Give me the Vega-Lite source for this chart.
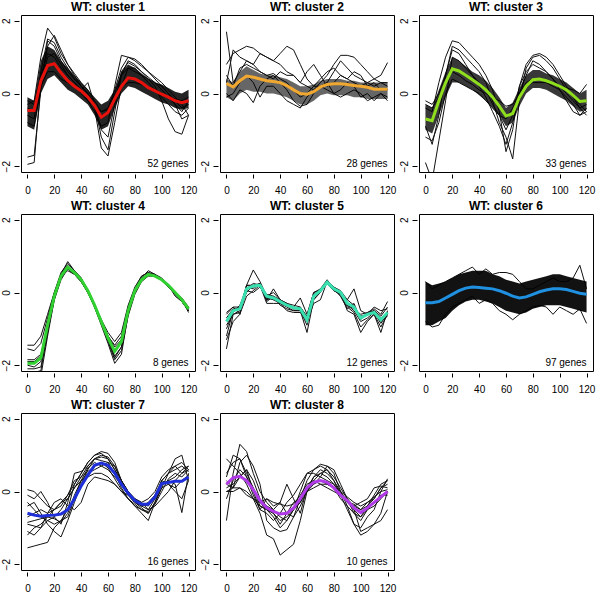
{
"$schema":"https://vega.github.io/schema/vega-lite/v6.json",
"padding":{"left":0,"top":0,"right":0,"bottom":0},
"background":"white",
"data":{"values":[
{"k":1,"t":0,"m":-0.47,"lo":-0.9,"hi":-0.1,"a":-0.3,"b":-1.95,"c":-1.75,"d":-0.8,"e":-0.2,"f":-0.6,"g":-0.4,"n":"52  genes"},
{"k":1,"t":5,"m":-0.47,"lo":-1.0,"hi":-0.2,"a":-0.2,"b":-1.9,"c":-1.7,"d":-0.9,"e":-0.3,"f":-0.7,"g":-0.5},
{"k":1,"t":10,"m":0.35,"lo":0.0,"hi":0.9,"a":1.0,"b":0.3,"c":0.1,"d":0.2,"e":0.5,"f":0.6,"g":0.2},
{"k":1,"t":15,"m":0.77,"lo":0.4,"hi":1.3,"a":1.8,"b":1.3,"c":1.45,"d":1.0,"e":1.1,"f":1.5,"g":0.6},
{"k":1,"t":20,"m":0.82,"lo":0.5,"hi":1.2,"a":1.55,"b":1.6,"c":1.3,"d":1.1,"e":1.0,"f":1.4,"g":0.6},
{"k":1,"t":25,"m":0.57,"lo":0.3,"hi":0.9,"a":1.1,"b":1.2,"c":0.9,"d":0.8,"e":0.7,"f":1.0,"g":0.4},
{"k":1,"t":30,"m":0.35,"lo":0.1,"hi":0.7,"a":0.8,"b":0.8,"c":0.6,"d":0.5,"e":0.5,"f":0.7,"g":0.3},
{"k":1,"t":35,"m":0.2,"lo":0.0,"hi":0.5,"a":0.55,"b":0.5,"c":0.4,"d":0.3,"e":0.3,"f":0.4,"g":0.2},
{"k":1,"t":40,"m":0.07,"lo":-0.15,"hi":0.3,"a":0.3,"b":0.2,"c":0.2,"d":0.1,"e":0.1,"f":0.2,"g":0.0},
{"k":1,"t":45,"m":-0.1,"lo":-0.3,"hi":0.1,"a":0.1,"b":0.0,"c":0.0,"d":0.3,"e":-0.2,"f":0.0,"g":-0.2},
{"k":1,"t":50,"m":-0.33,"lo":-0.6,"hi":-0.1,"a":-0.2,"b":-0.3,"c":-0.4,"d":-0.3,"e":-0.5,"f":-0.3,"g":-0.35},
{"k":1,"t":55,"m":-0.65,"lo":-1.0,"hi":-0.3,"a":-0.5,"b":-1.2,"c":-1.5,"d":-0.6,"e":-0.9,"f":-1.0,"g":-0.5},
{"k":1,"t":60,"m":-0.52,"lo":-0.9,"hi":-0.2,"a":-0.4,"b":-1.55,"c":-1.72,"d":-0.5,"e":-0.8,"f":-1.2,"g":-0.45},
{"k":1,"t":65,"m":-0.15,"lo":-0.4,"hi":0.1,"a":0.1,"b":-0.5,"c":-0.8,"d":0.0,"e":0.2,"f":-0.3,"g":-0.1},
{"k":1,"t":70,"m":0.2,"lo":0.0,"hi":0.6,"a":0.7,"b":0.5,"c":0.2,"d":0.5,"e":1.05,"f":0.6,"g":0.2},
{"k":1,"t":75,"m":0.43,"lo":0.2,"hi":0.8,"a":1.0,"b":0.9,"c":0.7,"d":0.7,"e":1.0,"f":0.85,"g":0.3},
{"k":1,"t":80,"m":0.4,"lo":0.15,"hi":0.7,"a":0.95,"b":0.8,"c":0.7,"d":0.6,"e":0.9,"f":0.75,"g":0.3},
{"k":1,"t":85,"m":0.3,"lo":0.05,"hi":0.55,"a":0.8,"b":0.6,"c":0.5,"d":0.5,"e":0.75,"f":0.6,"g":0.25},
{"k":1,"t":90,"m":0.16,"lo":-0.05,"hi":0.4,"a":0.6,"b":0.4,"c":0.3,"d":0.4,"e":0.6,"f":0.45,"g":0.15},
{"k":1,"t":95,"m":0.07,"lo":-0.15,"hi":0.3,"a":0.4,"b":0.2,"c":0.1,"d":0.3,"e":0.45,"f":0.3,"g":0.05},
{"k":1,"t":100,"m":-0.02,"lo":-0.25,"hi":0.25,"a":0.2,"b":-0.2,"c":-0.1,"d":0.2,"e":0.3,"f":0.1,"g":-0.05},
{"k":1,"t":105,"m":-0.1,"lo":-0.3,"hi":0.15,"a":0.0,"b":-0.7,"c":-0.3,"d":0.0,"e":0.1,"f":-0.1,"g":-0.1},
{"k":1,"t":110,"m":-0.2,"lo":-0.4,"hi":0.05,"a":-0.3,"b":-1.05,"c":-0.5,"d":-0.2,"e":-0.1,"f":-0.3,"g":-0.15},
{"k":1,"t":115,"m":-0.25,"lo":-0.45,"hi":0.0,"a":-0.7,"b":-1.12,"c":-0.6,"d":-0.4,"e":-0.3,"f":-0.5,"g":-0.2},
{"k":1,"t":120,"m":-0.2,"lo":-0.4,"hi":0.1,"a":-0.6,"b":-0.6,"c":-0.4,"d":-0.3,"e":-0.6,"f":-0.2,"g":-0.1},
{"k":2,"t":0,"m":0.28,"lo":-0.1,"hi":0.4,"a":1.7,"b":0.8,"c":0.3,"d":0.0,"e":0.5,"f":-0.1,"n":"28  genes"},
{"k":2,"t":5,"m":0.18,"lo":-0.2,"hi":0.3,"a":0.3,"b":1.1,"c":1.2,"d":-0.2,"e":0.2,"f":0.0},
{"k":2,"t":10,"m":0.35,"lo":0.0,"hi":0.6,"a":0.6,"b":1.2,"c":1.0,"d":0.1,"e":0.7,"f":0.3},
{"k":2,"t":15,"m":0.48,"lo":0.1,"hi":0.75,"a":0.9,"b":1.3,"c":0.9,"d":0.0,"e":0.8,"f":0.5},
{"k":2,"t":20,"m":0.45,"lo":0.05,"hi":0.65,"a":0.8,"b":1.25,"c":0.8,"d":-0.25,"e":0.7,"f":0.3},
{"k":2,"t":25,"m":0.4,"lo":0.05,"hi":0.55,"a":0.6,"b":1.1,"c":1.1,"d":0.2,"e":0.6,"f":-0.1},
{"k":2,"t":30,"m":0.35,"lo":0.0,"hi":0.5,"a":0.5,"b":1.0,"c":1.0,"d":0.4,"e":0.5,"f":0.2},
{"k":2,"t":35,"m":0.33,"lo":0.0,"hi":0.5,"a":0.55,"b":0.9,"c":0.9,"d":0.5,"e":0.4,"f":0.2},
{"k":2,"t":40,"m":0.3,"lo":-0.05,"hi":0.45,"a":0.4,"b":0.8,"c":1.1,"d":0.3,"e":0.6,"f":0.0},
{"k":2,"t":45,"m":0.22,"lo":-0.1,"hi":0.4,"a":0.3,"b":0.6,"c":1.3,"d":0.1,"e":0.5,"f":-0.2},
{"k":2,"t":50,"m":0.1,"lo":-0.2,"hi":0.3,"a":0.1,"b":0.5,"c":1.2,"d":-0.2,"e":0.5,"f":-0.3},
{"k":2,"t":55,"m":0.0,"lo":-0.3,"hi":0.2,"a":-0.1,"b":0.3,"c":0.8,"d":-0.35,"e":0.3,"f":-0.4},
{"k":2,"t":60,"m":-0.02,"lo":-0.3,"hi":0.2,"a":0.0,"b":0.2,"c":0.4,"d":-0.3,"e":0.6,"f":-0.1},
{"k":2,"t":65,"m":0.05,"lo":-0.2,"hi":0.25,"a":0.2,"b":0.1,"c":0.2,"d":0.0,"e":0.8,"f":0.1},
{"k":2,"t":70,"m":0.18,"lo":-0.05,"hi":0.35,"a":0.4,"b":0.3,"c":0.2,"d":0.2,"e":0.5,"f":0.2},
{"k":2,"t":75,"m":0.25,"lo":0.0,"hi":0.4,"a":0.6,"b":0.5,"c":0.3,"d":0.1,"e":0.2,"f":0.3},
{"k":2,"t":80,"m":0.27,"lo":-0.05,"hi":0.4,"a":0.7,"b":0.8,"c":0.6,"d":0.0,"e":0.3,"f":0.0},
{"k":2,"t":85,"m":0.27,"lo":-0.05,"hi":0.4,"a":0.5,"b":1.05,"c":0.9,"d":-0.1,"e":0.5,"f":0.1},
{"k":2,"t":90,"m":0.25,"lo":-0.05,"hi":0.35,"a":0.4,"b":1.05,"c":0.7,"d":0.0,"e":0.4,"f":0.3},
{"k":2,"t":95,"m":0.22,"lo":-0.1,"hi":0.35,"a":0.3,"b":1.0,"c":0.5,"d":0.1,"e":0.6,"f":0.2},
{"k":2,"t":100,"m":0.2,"lo":-0.1,"hi":0.3,"a":0.2,"b":0.8,"c":0.4,"d":0.0,"e":0.5,"f":-0.1},
{"k":2,"t":105,"m":0.17,"lo":-0.15,"hi":0.3,"a":0.3,"b":0.6,"c":0.3,"d":-0.2,"e":0.2,"f":0.0},
{"k":2,"t":110,"m":0.12,"lo":-0.15,"hi":0.3,"a":0.4,"b":0.4,"c":0.2,"d":-0.1,"e":0.3,"f":-0.2},
{"k":2,"t":115,"m":0.12,"lo":-0.15,"hi":0.3,"a":0.5,"b":0.3,"c":0.3,"d":0.0,"e":0.1,"f":0.0},
{"k":2,"t":120,"m":0.12,"lo":-0.15,"hi":0.3,"a":0.85,"b":0.2,"c":0.3,"d":-0.2,"e":0.1,"f":-0.1},
{"k":3,"t":0,"m":-0.7,"lo":-1.0,"hi":-0.3,"a":-1.9,"b":-0.4,"c":-0.9,"d":-0.2,"e":-0.3,"f":-1.2,"n":"33  genes"},
{"k":3,"t":5,"m":-0.75,"lo":-1.1,"hi":-0.4,"a":-2.4,"b":-0.5,"c":-1.4,"d":-0.3,"e":-0.4,"f":-1.3},
{"k":3,"t":10,"m":-0.2,"lo":-0.6,"hi":0.1,"a":-1.3,"b":0.3,"c":-0.6,"d":0.0,"e":-0.1,"f":-0.8},
{"k":3,"t":15,"m":0.3,"lo":-0.1,"hi":0.6,"a":-0.2,"b":1.0,"c":0.5,"d":0.5,"e":0.3,"f":0.0},
{"k":3,"t":20,"m":0.68,"lo":0.3,"hi":1.0,"a":1.0,"b":1.45,"c":1.3,"d":1.2,"e":0.6,"f":0.4},
{"k":3,"t":25,"m":0.62,"lo":0.3,"hi":0.9,"a":0.9,"b":1.4,"c":1.2,"d":1.1,"e":0.5,"f":0.3},
{"k":3,"t":30,"m":0.5,"lo":0.2,"hi":0.75,"a":0.7,"b":1.2,"c":1.0,"d":0.8,"e":0.35,"f":0.2},
{"k":3,"t":35,"m":0.38,"lo":0.1,"hi":0.6,"a":0.5,"b":1.0,"c":0.8,"d":0.5,"e":0.25,"f":0.1},
{"k":3,"t":40,"m":0.25,"lo":-0.05,"hi":0.5,"a":0.3,"b":0.8,"c":0.6,"d":0.2,"e":0.1,"f":0.0},
{"k":3,"t":45,"m":0.1,"lo":-0.2,"hi":0.35,"a":0.1,"b":0.5,"c":0.3,"d":-0.1,"e":0.0,"f":-0.2},
{"k":3,"t":50,"m":-0.1,"lo":-0.4,"hi":0.15,"a":-0.3,"b":0.1,"c":-0.2,"d":-0.5,"e":-0.1,"f":-0.4},
{"k":3,"t":55,"m":-0.35,"lo":-0.6,"hi":-0.1,"a":-0.6,"b":-0.5,"c":-0.8,"d":-0.9,"e":-0.2,"f":-0.6},
{"k":3,"t":60,"m":-0.62,"lo":-0.9,"hi":-0.4,"a":-1.0,"b":-1.6,"c":-1.2,"d":-1.4,"e":-0.35,"f":-0.7},
{"k":3,"t":65,"m":-0.55,"lo":-0.8,"hi":-0.25,"a":-0.6,"b":-1.0,"c":-1.8,"d":-0.8,"e":-0.3,"f":-0.4},
{"k":3,"t":70,"m":-0.1,"lo":-0.35,"hi":0.15,"a":0.2,"b":0.2,"c":-0.2,"d":0.0,"e":0.0,"f":0.0},
{"k":3,"t":75,"m":0.2,"lo":0.0,"hi":0.5,"a":0.6,"b":0.8,"c":0.7,"d":0.5,"e":0.2,"f":0.3},
{"k":3,"t":80,"m":0.38,"lo":0.15,"hi":0.65,"a":0.8,"b":1.05,"c":1.0,"d":0.9,"e":0.3,"f":0.4},
{"k":3,"t":85,"m":0.4,"lo":0.15,"hi":0.65,"a":0.7,"b":1.1,"c":1.05,"d":0.8,"e":0.3,"f":0.4},
{"k":3,"t":90,"m":0.35,"lo":0.1,"hi":0.55,"a":0.6,"b":1.0,"c":0.9,"d":0.6,"e":0.3,"f":0.3},
{"k":3,"t":95,"m":0.28,"lo":0.0,"hi":0.5,"a":0.4,"b":0.8,"c":0.7,"d":0.4,"e":0.25,"f":0.2},
{"k":3,"t":100,"m":0.2,"lo":-0.1,"hi":0.4,"a":0.2,"b":0.5,"c":0.4,"d":0.1,"e":0.2,"f":0.1},
{"k":3,"t":105,"m":0.1,"lo":-0.2,"hi":0.3,"a":0.0,"b":0.2,"c":0.1,"d":-0.2,"e":0.15,"f":-0.1},
{"k":3,"t":110,"m":-0.05,"lo":-0.35,"hi":0.15,"a":-0.2,"b":-0.1,"c":-0.1,"d":-0.5,"e":0.1,"f":-0.3},
{"k":3,"t":115,"m":-0.22,"lo":-0.5,"hi":0.0,"a":-0.4,"b":-0.3,"c":-0.4,"d":-0.6,"e":0.0,"f":-0.6},
{"k":3,"t":120,"m":-0.2,"lo":-0.45,"hi":0.1,"a":-0.3,"b":-0.5,"c":-0.6,"d":-0.5,"e":0.25,"f":-0.4},
{"k":4,"t":0,"m":-1.95,"a":-1.45,"b":-1.55,"c":-1.85,"d":-2.0,"e":-2.1,"f":-2.2,"g":-2.3,"h":-1.9,"n":"8  genes"},
{"k":4,"t":5,"m":-1.95,"a":-1.45,"b":-1.6,"c":-1.85,"d":-2.05,"e":-2.1,"f":-2.2,"g":-2.3,"h":-1.9},
{"k":4,"t":10,"m":-1.8,"a":-1.2,"b":-1.4,"c":-1.7,"d":-1.9,"e":-2.05,"f":-2.15,"g":-2.3,"h":-1.75},
{"k":4,"t":15,"m":-0.9,"a":-0.6,"b":-0.7,"c":-0.9,"d":-1.0,"e":-1.1,"f":-1.1,"g":-1.2,"h":-0.95},
{"k":4,"t":20,"m":-0.1,"a":0.0,"b":0.0,"c":-0.1,"d":-0.15,"e":-0.2,"f":-0.1,"g":-0.2,"h":-0.1},
{"k":4,"t":25,"m":0.45,"a":0.5,"b":0.55,"c":0.45,"d":0.4,"e":0.35,"f":0.5,"g":0.4,"h":0.45},
{"k":4,"t":30,"m":0.7,"a":0.75,"b":0.8,"c":0.7,"d":0.65,"e":0.65,"f":0.85,"g":0.7,"h":0.6},
{"k":4,"t":35,"m":0.55,"a":0.55,"b":0.6,"c":0.55,"d":0.5,"e":0.5,"f":0.6,"g":0.55,"h":0.5},
{"k":4,"t":40,"m":0.35,"a":0.35,"b":0.4,"c":0.35,"d":0.3,"e":0.3,"f":0.4,"g":0.35,"h":0.3},
{"k":4,"t":45,"m":0.05,"a":0.05,"b":0.05,"c":0.05,"d":0.0,"e":0.0,"f":0.05,"g":0.0,"h":0.0},
{"k":4,"t":50,"m":-0.35,"a":-0.35,"b":-0.35,"c":-0.35,"d":-0.4,"e":-0.4,"f":-0.4,"g":-0.35,"h":-0.35},
{"k":4,"t":55,"m":-0.8,"a":-0.75,"b":-0.8,"c":-0.8,"d":-0.85,"e":-0.85,"f":-0.9,"g":-0.8,"h":-0.75},
{"k":4,"t":60,"m":-1.25,"a":-1.1,"b":-1.2,"c":-1.25,"d":-1.3,"e":-1.35,"f":-1.4,"g":-1.3,"h":-1.2},
{"k":4,"t":65,"m":-1.62,"a":-1.35,"b":-1.45,"c":-1.6,"d":-1.75,"e":-1.85,"f":-1.95,"g":-1.8,"h":-1.5},
{"k":4,"t":70,"m":-1.35,"a":-1.1,"b":-1.2,"c":-1.35,"d":-1.5,"e":-1.6,"f":-1.7,"g":-1.5,"h":-1.3},
{"k":4,"t":75,"m":-0.5,"a":-0.35,"b":-0.4,"c":-0.5,"d":-0.6,"e":-0.65,"f":-0.6,"g":-0.55,"h":-0.45},
{"k":4,"t":80,"m":0.05,"a":0.15,"b":0.1,"c":0.05,"d":0.0,"e":-0.05,"f":0.05,"g":0.0,"h":0.05},
{"k":4,"t":85,"m":0.35,"a":0.45,"b":0.45,"c":0.35,"d":0.35,"e":0.3,"f":0.4,"g":0.35,"h":0.4},
{"k":4,"t":90,"m":0.5,"a":0.55,"b":0.55,"c":0.5,"d":0.5,"e":0.45,"f":0.6,"g":0.5,"h":0.5},
{"k":4,"t":95,"m":0.45,"a":0.45,"b":0.5,"c":0.45,"d":0.45,"e":0.45,"f":0.5,"g":0.45,"h":0.45},
{"k":4,"t":100,"m":0.35,"a":0.35,"b":0.35,"c":0.35,"d":0.35,"e":0.35,"f":0.4,"g":0.35,"h":0.35},
{"k":4,"t":105,"m":0.2,"a":0.2,"b":0.2,"c":0.2,"d":0.15,"e":0.15,"f":0.2,"g":0.2,"h":0.2},
{"k":4,"t":110,"m":0.0,"a":0.0,"b":-0.05,"c":0.0,"d":-0.05,"e":-0.05,"f":-0.05,"g":-0.1,"h":0.0},
{"k":4,"t":115,"m":-0.2,"a":-0.2,"b":-0.2,"c":-0.2,"d":-0.25,"e":-0.25,"f":-0.2,"g":-0.25,"h":-0.15},
{"k":4,"t":120,"m":-0.45,"a":-0.5,"b":-0.45,"c":-0.45,"d":-0.5,"e":-0.5,"f":-0.55,"g":-0.5,"h":-0.4},
{"k":5,"t":0,"m":-0.8,"a":-1.55,"b":-1.2,"c":-0.55,"d":-0.9,"e":-1.3,"f":-0.7,"g":-0.6,"h":-1.0,"n":"12  genes"},
{"k":5,"t":5,"m":-0.5,"a":-0.6,"b":-0.5,"c":-0.4,"d":-0.6,"e":-0.8,"f":-0.45,"g":-0.4,"h":-0.55},
{"k":5,"t":10,"m":-0.45,"a":-0.5,"b":-0.4,"c":-0.4,"d":-0.55,"e":-0.6,"f":-0.45,"g":-0.6,"h":-0.35},
{"k":5,"t":15,"m":0.1,"a":0.2,"b":0.15,"c":0.0,"d":0.05,"e":-0.1,"f":0.2,"g":0.2,"h":0.1},
{"k":5,"t":20,"m":0.18,"a":0.62,"b":0.1,"c":0.2,"d":0.0,"e":0.05,"f":0.2,"g":0.15,"h":0.25},
{"k":5,"t":25,"m":0.2,"a":0.3,"b":0.25,"c":0.25,"d":0.15,"e":0.2,"f":0.2,"g":0.25,"h":0.2},
{"k":5,"t":30,"m":-0.1,"a":-0.1,"b":-0.2,"c":-0.25,"d":-0.15,"e":-0.3,"f":-0.05,"g":-0.1,"h":-0.2},
{"k":5,"t":35,"m":-0.15,"a":-0.2,"b":0.1,"c":-0.1,"d":-0.2,"e":-0.3,"f":-0.1,"g":0.0,"h":-0.15},
{"k":5,"t":40,"m":-0.25,"a":-0.3,"b":-0.2,"c":-0.35,"d":-0.25,"e":-0.3,"f":-0.2,"g":-0.2,"h":-0.25},
{"k":5,"t":45,"m":-0.35,"a":-0.4,"b":-0.3,"c":-0.45,"d":-0.35,"e":-0.5,"f":-0.3,"g":-0.35,"h":-0.3},
{"k":5,"t":50,"m":-0.42,"a":-0.5,"b":-0.4,"c":-0.5,"d":-0.4,"e":-0.55,"f":-0.35,"g":-0.45,"h":-0.45},
{"k":5,"t":55,"m":-0.45,"a":-0.5,"b":-0.15,"c":-0.5,"d":-0.45,"e":-0.55,"f":-0.4,"g":-0.45,"h":-0.4},
{"k":5,"t":60,"m":-0.75,"a":-0.9,"b":-0.6,"c":-1.1,"d":-0.75,"e":-0.8,"f":-0.7,"g":-0.7,"h":-0.65},
{"k":5,"t":65,"m":-0.1,"a":-0.1,"b":0.0,"c":-0.2,"d":-0.1,"e":-0.3,"f":-0.05,"g":-0.2,"h":0.0},
{"k":5,"t":70,"m":0.05,"a":0.1,"b":0.1,"c":0.0,"d":0.05,"e":-0.2,"f":0.05,"g":0.05,"h":0.05},
{"k":5,"t":75,"m":0.28,"a":0.35,"b":0.3,"c":0.3,"d":0.25,"e":0.3,"f":0.3,"g":0.25,"h":0.25},
{"k":5,"t":80,"m":0.1,"a":0.1,"b":0.15,"c":0.15,"d":0.05,"e":0.1,"f":0.1,"g":0.1,"h":0.05},
{"k":5,"t":85,"m":0.0,"a":-0.1,"b":0.05,"c":0.0,"d":-0.05,"e":-0.1,"f":0.0,"g":0.0,"h":-0.05},
{"k":5,"t":90,"m":-0.3,"a":-0.45,"b":-0.2,"c":-0.5,"d":-0.35,"e":-0.4,"f":-0.3,"g":-0.35,"h":-0.2},
{"k":5,"t":95,"m":-0.4,"a":-0.3,"b":0.1,"c":-0.6,"d":-0.5,"e":-0.55,"f":-0.4,"g":-0.45,"h":-0.35},
{"k":5,"t":100,"m":-0.7,"a":-0.75,"b":-0.5,"c":-1.1,"d":-0.8,"e":-0.95,"f":-0.65,"g":-0.6,"h":-0.7},
{"k":5,"t":105,"m":-0.6,"a":-0.55,"b":-0.6,"c":-0.8,"d":-0.7,"e":-0.75,"f":-0.6,"g":-0.55,"h":-0.6},
{"k":5,"t":110,"m":-0.55,"a":-0.45,"b":-0.4,"c":-0.6,"d":-0.55,"e":-0.6,"f":-0.5,"g":-0.5,"h":-0.55},
{"k":5,"t":115,"m":-0.75,"a":-0.6,"b":-0.5,"c":-1.1,"d":-0.85,"e":-0.95,"f":-0.7,"g":-0.65,"h":-0.8},
{"k":5,"t":120,"m":-0.55,"a":-0.25,"b":-0.45,"c":-0.5,"d":-0.6,"e":-0.6,"f":-0.55,"g":-0.4,"h":-0.65},
{"k":6,"t":0,"m":-0.28,"lo":-0.9,"hi":0.3,"a":0.3,"b":-0.8,"n":"97  genes"},
{"k":6,"t":5,"m":-0.28,"lo":-0.9,"hi":0.2,"a":0.1,"b":-0.95},
{"k":6,"t":10,"m":-0.25,"lo":-0.8,"hi":0.25,"a":0.2,"b":-0.9},
{"k":6,"t":15,"m":-0.15,"lo":-0.7,"hi":0.3,"a":0.3,"b":-0.6},
{"k":6,"t":20,"m":-0.05,"lo":-0.5,"hi":0.4,"a":0.4,"b":-0.4},
{"k":6,"t":25,"m":0.05,"lo":-0.35,"hi":0.5,"a":0.5,"b":-0.3},
{"k":6,"t":30,"m":0.12,"lo":-0.25,"hi":0.55,"a":0.6,"b":-0.2},
{"k":6,"t":35,"m":0.15,"lo":-0.2,"hi":0.6,"a":0.7,"b":-0.1},
{"k":6,"t":40,"m":0.14,"lo":-0.2,"hi":0.6,"a":0.5,"b":-0.3},
{"k":6,"t":45,"m":0.12,"lo":-0.25,"hi":0.6,"a":0.65,"b":-0.2},
{"k":6,"t":50,"m":0.1,"lo":-0.3,"hi":0.5,"a":0.5,"b":-0.3},
{"k":6,"t":55,"m":0.05,"lo":-0.4,"hi":0.45,"a":0.55,"b":-0.5},
{"k":6,"t":60,"m":-0.02,"lo":-0.5,"hi":0.35,"a":0.55,"b":-0.6},
{"k":6,"t":65,"m":-0.1,"lo":-0.55,"hi":0.3,"a":0.5,"b":-0.75},
{"k":6,"t":70,"m":-0.15,"lo":-0.6,"hi":0.25,"a":0.3,"b":-0.6},
{"k":6,"t":75,"m":-0.12,"lo":-0.55,"hi":0.3,"a":0.1,"b":-0.5},
{"k":6,"t":80,"m":-0.05,"lo":-0.45,"hi":0.35,"a":0.1,"b":-0.4},
{"k":6,"t":85,"m":0.02,"lo":-0.4,"hi":0.4,"a":0.2,"b":-0.35},
{"k":6,"t":90,"m":0.07,"lo":-0.35,"hi":0.45,"a":0.3,"b":-0.4},
{"k":6,"t":95,"m":0.1,"lo":-0.35,"hi":0.5,"a":0.4,"b":-0.6},
{"k":6,"t":100,"m":0.1,"lo":-0.35,"hi":0.5,"a":0.3,"b":-0.4},
{"k":6,"t":105,"m":0.08,"lo":-0.4,"hi":0.45,"a":0.3,"b":-0.5},
{"k":6,"t":110,"m":0.03,"lo":-0.45,"hi":0.4,"a":0.4,"b":-0.6},
{"k":6,"t":115,"m":-0.02,"lo":-0.5,"hi":0.35,"a":0.75,"b":-0.45},
{"k":6,"t":120,"m":-0.05,"lo":-0.55,"hi":0.3,"a":0.1,"b":-0.85},
{"k":7,"t":0,"m":-0.6,"a":-1.55,"b":0.05,"c":-0.1,"d":-0.9,"e":-0.4,"f":-1.1,"g":-0.7,"h":-0.3,"i":-0.85,"j":-1.2,"n":"16  genes"},
{"k":7,"t":5,"m":-0.65,"a":-1.5,"b":0.0,"c":-0.2,"d":-0.95,"e":-0.3,"f":-1.2,"g":-0.6,"h":-0.5,"i":-0.8,"j":-1.0},
{"k":7,"t":10,"m":-0.68,"a":-1.45,"b":-0.2,"c":0.0,"d":-1.0,"e":-0.6,"f":-1.0,"g":-0.5,"h":-0.7,"i":-0.75,"j":-0.9},
{"k":7,"t":15,"m":-0.66,"a":-1.4,"b":-0.4,"c":-0.3,"d":-0.8,"e":-0.9,"f":-0.6,"g":-0.6,"h":-0.8,"i":-0.7,"j":-0.7},
{"k":7,"t":20,"m":-0.65,"a":-1.0,"b":-0.5,"c":-0.7,"d":-0.7,"e":-1.1,"f":-0.3,"g":-0.5,"h":-0.9,"i":-0.75,"j":-0.5},
{"k":7,"t":25,"m":-0.62,"a":-0.8,"b":-0.3,"c":-0.9,"d":-0.5,"e":-1.25,"f":-0.2,"g":-0.3,"h":-0.8,"i":-0.85,"j":-0.4},
{"k":7,"t":30,"m":-0.5,"a":-0.5,"b":-0.1,"c":-0.3,"d":-0.2,"e":-0.8,"f":-0.4,"g":-0.2,"h":-0.7,"i":-0.6,"j":-0.1},
{"k":7,"t":35,"m":-0.2,"a":0.2,"b":0.2,"c":0.5,"d":0.1,"e":-0.3,"f":-0.5,"g":0.1,"h":-0.2,"i":-0.1,"j":0.3},
{"k":7,"t":40,"m":0.15,"a":0.5,"b":0.5,"c":0.55,"d":0.3,"e":0.2,"f":-0.3,"g":0.4,"h":0.3,"i":0.3,"j":0.4},
{"k":7,"t":45,"m":0.45,"a":0.8,"b":0.8,"c":0.7,"d":0.4,"e":0.6,"f":0.2,"g":0.7,"h":0.65,"i":0.5,"j":0.55},
{"k":7,"t":50,"m":0.72,"a":1.0,"b":1.0,"c":0.9,"d":0.5,"e":0.9,"f":0.4,"g":0.9,"h":0.8,"i":0.6,"j":0.7},
{"k":7,"t":55,"m":0.78,"a":1.1,"b":1.05,"c":0.85,"d":0.5,"e":1.0,"f":0.35,"g":0.95,"h":0.7,"i":0.7,"j":0.8},
{"k":7,"t":60,"m":0.72,"a":1.05,"b":0.9,"c":0.8,"d":0.4,"e":0.95,"f":0.3,"g":0.9,"h":0.6,"i":0.8,"j":0.65},
{"k":7,"t":65,"m":0.5,"a":0.8,"b":0.6,"c":0.5,"d":0.2,"e":0.7,"f":0.2,"g":0.6,"h":0.4,"i":0.7,"j":0.35},
{"k":7,"t":70,"m":0.2,"a":0.3,"b":0.3,"c":0.1,"d":0.0,"e":0.3,"f":0.0,"g":0.2,"h":0.2,"i":0.3,"j":0.05},
{"k":7,"t":75,"m":-0.05,"a":0.0,"b":0.0,"c":-0.2,"d":-0.1,"e":-0.1,"f":-0.2,"g":-0.1,"h":-0.1,"i":0.0,"j":-0.2},
{"k":7,"t":80,"m":-0.25,"a":-0.2,"b":-0.2,"c":-0.4,"d":-0.2,"e":-0.3,"f":-0.4,"g":-0.3,"h":-0.3,"i":-0.25,"j":-0.35},
{"k":7,"t":85,"m":-0.35,"a":-0.4,"b":-0.3,"c":-0.5,"d":-0.3,"e":-0.4,"f":-0.6,"g":-0.35,"h":-0.45,"i":-0.4,"j":-0.5},
{"k":7,"t":90,"m":-0.35,"a":-0.5,"b":-0.2,"c":-0.6,"d":-0.5,"e":-0.3,"f":-0.8,"g":-0.4,"h":-0.6,"i":-0.35,"j":-0.55},
{"k":7,"t":95,"m":-0.15,"a":-0.2,"b":0.0,"c":-0.3,"d":-0.4,"e":-0.1,"f":-0.3,"g":-0.1,"h":-0.3,"i":-0.2,"j":-0.35},
{"k":7,"t":100,"m":0.22,"a":0.3,"b":0.4,"c":0.1,"d":-0.2,"e":0.2,"f":0.2,"g":0.3,"h":0.1,"i":0.3,"j":0.0},
{"k":7,"t":105,"m":0.25,"a":0.5,"b":0.6,"c":0.5,"d":0.0,"e":0.3,"f":0.3,"g":0.5,"h":0.2,"i":0.2,"j":0.35},
{"k":7,"t":110,"m":0.28,"a":0.7,"b":0.7,"c":0.9,"d":0.3,"e":0.2,"f":0.4,"g":0.6,"h":0.0,"i":0.1,"j":0.5},
{"k":7,"t":115,"m":0.28,"a":0.8,"b":0.5,"c":1.0,"d":0.5,"e":-0.58,"f":0.6,"g":0.7,"h":-0.2,"i":0.3,"j":0.4},
{"k":7,"t":120,"m":0.4,"a":0.6,"b":0.7,"c":0.3,"d":0.6,"e":0.5,"f":0.7,"g":0.55,"h":0.3,"i":0.45,"j":0.6},
{"k":8,"t":0,"m":0.2,"a":-0.8,"b":0.9,"c":0.2,"d":0.3,"e":0.1,"f":0.5,"g":0.0,"h":0.4,"i":-0.2,"j":0.0,"n":"10  genes"},
{"k":8,"t":5,"m":0.38,"a":0.5,"b":0.7,"c":0.1,"d":0.1,"e":0.2,"f":0.8,"g":0.0,"h":1.0,"i":0.3,"j":0.1},
{"k":8,"t":10,"m":0.42,"a":1.3,"b":0.5,"c":0.8,"d":0.1,"e":0.4,"f":0.9,"g":0.1,"h":0.9,"i":0.6,"j":0.4},
{"k":8,"t":15,"m":0.3,"a":1.1,"b":0.2,"c":1.0,"d":-0.1,"e":0.6,"f":0.5,"g":0.0,"h":0.4,"i":0.4,"j":0.6},
{"k":8,"t":20,"m":0.05,"a":0.5,"b":-0.2,"c":0.7,"d":-0.2,"e":0.0,"f":0.1,"g":-0.2,"h":-0.1,"i":0.1,"j":0.3},
{"k":8,"t":25,"m":-0.25,"a":0.0,"b":-0.6,"c":0.2,"d":-0.3,"e":-0.5,"f":-0.3,"g":-0.4,"h":-0.5,"i":-0.4,"j":-0.2},
{"k":8,"t":30,"m":-0.45,"a":-0.3,"b":-1.2,"c":-0.8,"d":-0.2,"e":-0.2,"f":-0.5,"g":-0.5,"h":-0.6,"i":-0.5,"j":-0.4},
{"k":8,"t":35,"m":-0.55,"a":-0.5,"b":-1.3,"c":-1.0,"d":-0.3,"e":-0.4,"f":-0.6,"g":-0.6,"h":-0.8,"i":-0.7,"j":-0.5},
{"k":8,"t":40,"m":-0.62,"a":-0.7,"b":-1.75,"c":-1.1,"d":-0.35,"e":-0.3,"f":-0.8,"g":-0.9,"h":-0.6,"i":-1.0,"j":-0.3},
{"k":8,"t":45,"m":-0.6,"a":-0.8,"b":-1.6,"c":-1.05,"d":-0.4,"e":0.2,"f":-0.7,"g":-0.6,"h":-0.3,"i":-0.8,"j":-0.6},
{"k":8,"t":50,"m":-0.45,"a":-0.5,"b":-1.45,"c":-0.7,"d":-0.35,"e":-0.2,"f":-0.5,"g":-0.3,"h":-0.1,"i":-0.5,"j":-0.7},
{"k":8,"t":55,"m":-0.2,"a":0.0,"b":-0.8,"c":-0.2,"d":-0.1,"e":-0.6,"f":-0.3,"g":-0.2,"h":0.2,"i":-0.3,"j":-0.4},
{"k":8,"t":60,"m":0.1,"a":0.5,"b":0.0,"c":0.3,"d":0.2,"e":0.1,"f":0.1,"g":0.0,"h":0.5,"i":0.0,"j":0.0},
{"k":8,"t":65,"m":0.25,"a":0.6,"b":0.3,"c":0.6,"d":0.3,"e":0.4,"f":0.2,"g":0.1,"h":0.5,"i":0.4,"j":0.2},
{"k":8,"t":70,"m":0.3,"a":0.7,"b":0.5,"c":0.75,"d":0.2,"e":0.5,"f":0.4,"g":0.2,"h":0.4,"i":0.6,"j":0.3},
{"k":8,"t":75,"m":0.25,"a":0.6,"b":0.6,"c":0.7,"d":0.1,"e":0.4,"f":0.7,"g":0.2,"h":0.3,"i":0.5,"j":0.2},
{"k":8,"t":80,"m":0.1,"a":0.4,"b":0.3,"c":0.5,"d":0.0,"e":0.2,"f":0.6,"g":0.1,"h":0.2,"i":0.3,"j":0.1},
{"k":8,"t":85,"m":-0.1,"a":0.1,"b":-0.1,"c":0.0,"d":-0.1,"e":0.0,"f":0.2,"g":0.0,"h":-0.1,"i":0.0,"j":-0.2},
{"k":8,"t":90,"m":-0.25,"a":-0.2,"b":-0.5,"c":-0.4,"d":-0.2,"e":-0.3,"f":-0.2,"g":-0.15,"h":-0.3,"i":-0.3,"j":-0.4},
{"k":8,"t":95,"m":-0.45,"a":-0.5,"b":-0.9,"c":-0.9,"d":-0.4,"e":-0.4,"f":-0.6,"g":-0.3,"h":-0.35,"i":-0.5,"j":-0.6},
{"k":8,"t":100,"m":-0.58,"a":-1.1,"b":-1.2,"c":-1.0,"d":-0.5,"e":-0.3,"f":-0.8,"g":-0.4,"h":-0.5,"i":-0.7,"j":-0.7},
{"k":8,"t":105,"m":-0.45,"a":-1.0,"b":-1.1,"c":-0.7,"d":-0.3,"e":-0.2,"f":-0.5,"g":-0.3,"h":-0.4,"i":-0.5,"j":-0.4},
{"k":8,"t":110,"m":-0.3,"a":-0.9,"b":-0.9,"c":-0.5,"d":-0.2,"e":0.1,"f":-0.3,"g":-0.15,"h":-0.1,"i":-0.4,"j":-0.2},
{"k":8,"t":115,"m":-0.15,"a":-0.8,"b":-0.6,"c":0.0,"d":0.1,"e":0.15,"f":-0.1,"g":0.0,"h":0.2,"i":-0.2,"j":0.1},
{"k":8,"t":120,"m":0.0,"a":-0.5,"b":0.0,"c":0.35,"d":0.2,"e":0.1,"f":-0.1,"g":0.05,"h":0.3,"i":0.0,"j":0.3}
]},
"facet":{"field":"k","type":"ordinal","header":{"title":null,"labelExpr":"'WT: cluster ' + datum.value","labelFont":"Liberation Sans","labelFontSize":12,"labelFontWeight":"bold","labelColor":"black","labelPadding":1}},
"columns":3,
"spacing":{"row":3,"column":1},
"resolve":{"axis":{"x":"independent","y":"independent"}},
"spec":{
"width":174,"height":157,
"encoding":{"x":{"field":"t","type":"quantitative","scale":{"domain":[-4.8,124.8],"nice":false,"zero":false},"axis":{"values":[0,20,40,60,80,100,120],"title":null}}},
"layer":[
{"transform":[{"fold":["a","b","c","d","e","f","g","h","i","j"],"as":["gene","v"]},{"filter":{"field":"v","valid":true}}],
"mark":{"type":"line","stroke":"#111111","strokeWidth":1,"clip":true},
"encoding":{"y":{"field":"v","type":"quantitative","scale":{"domain":[-2.16,2.16],"nice":false,"zero":false},"axis":{"values":[-2,-1,0,1,2],"title":null}},"detail":{"field":"gene"}}},
{"transform":[{"filter":"datum.lo != null"}],
"mark":{"type":"area","color":"#000000","clip":true},
"encoding":{"y":{"field":"lo","type":"quantitative","scale":{"domain":[-2.16,2.16],"nice":false,"zero":false}},"y2":{"field":"hi"},"opacity":{"condition":[{"test":"datum.k == 2","value":0.6},{"test":"datum.k == 3","value":0.78},{"test":"datum.k == 6","value":0.93}],"value":0.86}}},
{"mark":{"type":"line","strokeWidth":3,"clip":true},
"encoding":{"y":{"field":"m","type":"quantitative","scale":{"domain":[-2.16,2.16],"nice":false,"zero":false}},"color":{"field":"k","type":"ordinal","scale":{"domain":[1,2,3,4,5,6,7,8],"range":["#e8120c","#f0a830","#8ede1e","#30d030","#38e0b0","#2090e0","#1e2ed8","#b03ae8"]},"legend":null}}},
{"transform":[{"filter":"datum.n != null"}],
"mark":{"type":"text","align":"right","baseline":"middle","fontSize":10,"font":"Liberation Sans","color":"black"},
"encoding":{"x":{"datum":120},"y":{"datum":-1.93},"text":{"field":"n"}}}
]},
"config":{
"view":{"stroke":"black","strokeWidth":1},
"axis":{"domain":false,"grid":false,"tickColor":"black","offset":2,"labelFont":"Liberation Sans","labelFontSize":10,"labelColor":"black","title":null},
"axisX":{"tickSize":4,"labelPadding":7},
"axisY":{"tickSize":5,"labelAngle":-90,"labelAlign":"center","labelBaseline":"bottom","labelPadding":3}
}
}
